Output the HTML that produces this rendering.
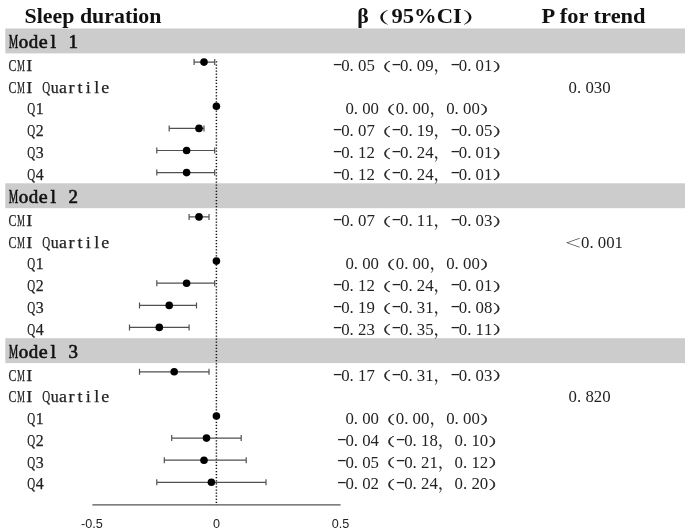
<!DOCTYPE html>
<html lang="en"><head><meta charset="utf-8"><title>Sleep duration</title>
<style>
html,body{margin:0;padding:0;background:#fff}
svg{display:block}
.hd{font-family:"Liberation Serif","Noto Serif CJK SC",serif;font-weight:bold;font-size:21.8px;fill:#111}
.num{font-family:"Liberation Serif","Noto Serif CJK SC",serif;font-size:16.8px;fill:#222}
.lab{font-family:"Liberation Serif","Noto Serif CJK SC",serif;fill:#222;stroke:#222;stroke-width:0.25}
.mod{font-family:"Liberation Serif","Noto Serif CJK SC",serif;fill:#111;stroke:#111;stroke-width:0.6}
.ax{font-family:"Liberation Sans",sans-serif;font-size:12.6px;fill:#222}
</style></head><body>
<svg width="685" height="529" viewBox="0 0 685 529">
<rect x="0" y="0" width="685" height="529" fill="#fff"/>
<rect x="5.3" y="28.5" width="679.7" height="24.9" fill="#cccccc"/>
<rect x="5.3" y="183.3" width="679.7" height="24.9" fill="#cccccc"/>
<rect x="5.3" y="338.2" width="679.7" height="24.9" fill="#cccccc"/>
<text class="hd" x="24.6" y="23.3" textLength="136.8" lengthAdjust="spacingAndGlyphs">Sleep duration</text>
<text class="hd"><tspan x="357.3" y="23.3">β</tspan><tspan x="364.08" y="22.50" font-size="15.53" textLength="25.42" lengthAdjust="spacingAndGlyphs">（</tspan><tspan x="391.5" y="23.3" textLength="70.3" lengthAdjust="spacingAndGlyphs">95%CI</tspan><tspan x="462.38" y="22.50" font-size="15.53" textLength="25.75" lengthAdjust="spacingAndGlyphs">）</tspan></text>
<text class="hd" x="541.6" y="23.3" textLength="104" lengthAdjust="spacingAndGlyphs">P for trend</text>
<text class="mod" font-size="18.6"><tspan x="8.75" y="48.40" textLength="9.45" lengthAdjust="spacingAndGlyphs">M</tspan><tspan x="18.70" y="48.40" textLength="9.45" lengthAdjust="spacingAndGlyphs">o</tspan><tspan x="28.65" y="48.40" textLength="9.45" lengthAdjust="spacingAndGlyphs">d</tspan><tspan x="38.87" y="48.40" textLength="8.92" lengthAdjust="spacingAndGlyphs">e</tspan><tspan x="50.48" y="48.40" textLength="5.58" lengthAdjust="spacingAndGlyphs">l</tspan> <tspan x="68.45" y="48.40" textLength="9.45" lengthAdjust="spacingAndGlyphs">1</tspan></text>
<text class="mod" font-size="18.6"><tspan x="8.75" y="203.25" textLength="9.45" lengthAdjust="spacingAndGlyphs">M</tspan><tspan x="18.70" y="203.25" textLength="9.45" lengthAdjust="spacingAndGlyphs">o</tspan><tspan x="28.65" y="203.25" textLength="9.45" lengthAdjust="spacingAndGlyphs">d</tspan><tspan x="38.87" y="203.25" textLength="8.92" lengthAdjust="spacingAndGlyphs">e</tspan><tspan x="50.48" y="203.25" textLength="5.58" lengthAdjust="spacingAndGlyphs">l</tspan> <tspan x="68.45" y="203.25" textLength="9.45" lengthAdjust="spacingAndGlyphs">2</tspan></text>
<text class="mod" font-size="18.6"><tspan x="8.75" y="358.10" textLength="9.45" lengthAdjust="spacingAndGlyphs">M</tspan><tspan x="18.70" y="358.10" textLength="9.45" lengthAdjust="spacingAndGlyphs">o</tspan><tspan x="28.65" y="358.10" textLength="9.45" lengthAdjust="spacingAndGlyphs">d</tspan><tspan x="38.87" y="358.10" textLength="8.92" lengthAdjust="spacingAndGlyphs">e</tspan><tspan x="50.48" y="358.10" textLength="5.58" lengthAdjust="spacingAndGlyphs">l</tspan> <tspan x="68.45" y="358.10" textLength="9.45" lengthAdjust="spacingAndGlyphs">3</tspan></text>
<line x1="216.4" y1="61.3" x2="216.4" y2="505" stroke="#111" stroke-width="1.5" stroke-dasharray="1.25 1.83"/>
<line x1="92.4" y1="504.9" x2="340.6" y2="504.9" stroke="#555" stroke-width="1.3"/>
<text class="ax" x="91.8" y="528.3" text-anchor="middle">-0.5</text>
<text class="ax" x="216.5" y="528.3" text-anchor="middle">0</text>
<text class="ax" x="340.6" y="528.3" text-anchor="middle">0.5</text>
<text class="lab" font-size="16.8"><tspan x="8.55" y="71.00" textLength="7.93" lengthAdjust="spacingAndGlyphs">C</tspan><tspan x="16.98" y="71.00" textLength="7.93" lengthAdjust="spacingAndGlyphs">M</tspan><tspan x="26.35" y="71.00" textLength="6.04" lengthAdjust="spacingAndGlyphs">I</tspan></text>
<path d="M194.1 62.1H214.7M194.1 59.1v6M214.7 59.1v6" stroke="#505050" stroke-width="1.2" fill="none"/>
<circle cx="204.0" cy="62.1" r="3.8" fill="#000"/>
<g class="num"><text><tspan x="332.80" y="68.80" textLength="9.70" lengthAdjust="spacingAndGlyphs">-</tspan><tspan x="341.20" y="71.00">0</tspan><tspan x="349.60" y="71.00">.</tspan><tspan x="358.00" y="71.00">0</tspan><tspan x="366.40" y="71.00">5</tspan><tspan x="372.44" y="70.75" font-size="11.70" textLength="18.53" lengthAdjust="spacingAndGlyphs" stroke="#222" stroke-width="0.35">（</tspan><tspan x="391.60" y="68.80" textLength="9.70" lengthAdjust="spacingAndGlyphs">-</tspan><tspan x="400.00" y="71.00">0</tspan><tspan x="408.40" y="71.00">.</tspan><tspan x="416.80" y="71.00">0</tspan><tspan x="425.20" y="71.00">9</tspan><tspan x="433.60" y="71.00">，</tspan><tspan x="450.40" y="68.80" textLength="9.70" lengthAdjust="spacingAndGlyphs">-</tspan><tspan x="458.80" y="71.00">0</tspan><tspan x="467.20" y="71.00">.</tspan><tspan x="475.60" y="71.00">0</tspan><tspan x="484.00" y="71.00">1</tspan><tspan x="492.83" y="70.75" font-size="11.70" textLength="18.53" lengthAdjust="spacingAndGlyphs" stroke="#222" stroke-width="0.35">）</tspan></text></g>
<text class="lab" font-size="16.8"><tspan x="8.55" y="92.73" textLength="7.93" lengthAdjust="spacingAndGlyphs">C</tspan><tspan x="16.98" y="92.73" textLength="7.93" lengthAdjust="spacingAndGlyphs">M</tspan><tspan x="26.35" y="92.73" textLength="6.04" lengthAdjust="spacingAndGlyphs">I</tspan> <tspan x="42.27" y="92.73" textLength="7.93" lengthAdjust="spacingAndGlyphs">Q</tspan><tspan x="50.70" y="92.73" textLength="7.93" lengthAdjust="spacingAndGlyphs">u</tspan><tspan x="59.13" y="92.73" textLength="7.93" lengthAdjust="spacingAndGlyphs">a</tspan><tspan x="68.50" y="92.73" textLength="6.04" lengthAdjust="spacingAndGlyphs">r</tspan><tspan x="77.43" y="92.73" textLength="5.04" lengthAdjust="spacingAndGlyphs">t</tspan><tspan x="85.86" y="92.73" textLength="5.04" lengthAdjust="spacingAndGlyphs">i</tspan><tspan x="94.29" y="92.73" textLength="5.04" lengthAdjust="spacingAndGlyphs">l</tspan><tspan x="101.28" y="92.73" textLength="7.93" lengthAdjust="spacingAndGlyphs">e</tspan></text>
<g class="num"><text><tspan x="568.60" y="92.73">0</tspan><tspan x="577.00" y="92.73">.</tspan><tspan x="585.40" y="92.73">0</tspan><tspan x="593.80" y="92.73">3</tspan><tspan x="602.20" y="92.73">0</tspan></text></g>
<text class="lab" font-size="16.8"><tspan x="27.37" y="114.46" textLength="7.93" lengthAdjust="spacingAndGlyphs">Q</tspan><tspan x="35.80" y="114.46" textLength="7.93" lengthAdjust="spacingAndGlyphs">1</tspan></text>
<circle cx="216.4" cy="106.3" r="3.8" fill="#000"/>
<g class="num"><text><tspan x="345.40" y="114.46">0</tspan><tspan x="353.80" y="114.46">.</tspan><tspan x="362.20" y="114.46">0</tspan><tspan x="370.60" y="114.46">0</tspan><tspan x="376.64" y="114.21" font-size="11.70" textLength="18.53" lengthAdjust="spacingAndGlyphs" stroke="#222" stroke-width="0.35">（</tspan><tspan x="395.80" y="114.46">0</tspan><tspan x="404.20" y="114.46">.</tspan><tspan x="412.60" y="114.46">0</tspan><tspan x="421.00" y="114.46">0</tspan><tspan x="429.40" y="114.46">，</tspan><tspan x="446.20" y="114.46">0</tspan><tspan x="454.60" y="114.46">.</tspan><tspan x="463.00" y="114.46">0</tspan><tspan x="471.40" y="114.46">0</tspan><tspan x="480.23" y="114.21" font-size="11.70" textLength="18.53" lengthAdjust="spacingAndGlyphs" stroke="#222" stroke-width="0.35">）</tspan></text></g>
<text class="lab" font-size="16.8"><tspan x="27.37" y="136.19" textLength="7.93" lengthAdjust="spacingAndGlyphs">Q</tspan><tspan x="35.80" y="136.19" textLength="7.93" lengthAdjust="spacingAndGlyphs">2</tspan></text>
<path d="M169.2 128.4H204.0M169.2 125.4v6M204.0 125.4v6" stroke="#505050" stroke-width="1.2" fill="none"/>
<circle cx="199.0" cy="128.4" r="3.8" fill="#000"/>
<g class="num"><text><tspan x="332.80" y="133.99" textLength="9.70" lengthAdjust="spacingAndGlyphs">-</tspan><tspan x="341.20" y="136.19">0</tspan><tspan x="349.60" y="136.19">.</tspan><tspan x="358.00" y="136.19">0</tspan><tspan x="366.40" y="136.19">7</tspan><tspan x="372.44" y="135.94" font-size="11.70" textLength="18.53" lengthAdjust="spacingAndGlyphs" stroke="#222" stroke-width="0.35">（</tspan><tspan x="391.60" y="133.99" textLength="9.70" lengthAdjust="spacingAndGlyphs">-</tspan><tspan x="400.00" y="136.19">0</tspan><tspan x="408.40" y="136.19">.</tspan><tspan x="416.80" y="136.19">1</tspan><tspan x="425.20" y="136.19">9</tspan><tspan x="433.60" y="136.19">，</tspan><tspan x="450.40" y="133.99" textLength="9.70" lengthAdjust="spacingAndGlyphs">-</tspan><tspan x="458.80" y="136.19">0</tspan><tspan x="467.20" y="136.19">.</tspan><tspan x="475.60" y="136.19">0</tspan><tspan x="484.00" y="136.19">5</tspan><tspan x="492.83" y="135.94" font-size="11.70" textLength="18.53" lengthAdjust="spacingAndGlyphs" stroke="#222" stroke-width="0.35">）</tspan></text></g>
<text class="lab" font-size="16.8"><tspan x="27.37" y="157.92" textLength="7.93" lengthAdjust="spacingAndGlyphs">Q</tspan><tspan x="35.80" y="157.92" textLength="7.93" lengthAdjust="spacingAndGlyphs">3</tspan></text>
<path d="M156.8 150.5H214.7M156.8 147.5v6M214.7 147.5v6" stroke="#505050" stroke-width="1.2" fill="none"/>
<circle cx="186.6" cy="150.5" r="3.8" fill="#000"/>
<g class="num"><text><tspan x="332.80" y="155.72" textLength="9.70" lengthAdjust="spacingAndGlyphs">-</tspan><tspan x="341.20" y="157.92">0</tspan><tspan x="349.60" y="157.92">.</tspan><tspan x="358.00" y="157.92">1</tspan><tspan x="366.40" y="157.92">2</tspan><tspan x="372.44" y="157.67" font-size="11.70" textLength="18.53" lengthAdjust="spacingAndGlyphs" stroke="#222" stroke-width="0.35">（</tspan><tspan x="391.60" y="155.72" textLength="9.70" lengthAdjust="spacingAndGlyphs">-</tspan><tspan x="400.00" y="157.92">0</tspan><tspan x="408.40" y="157.92">.</tspan><tspan x="416.80" y="157.92">2</tspan><tspan x="425.20" y="157.92">4</tspan><tspan x="433.60" y="157.92">，</tspan><tspan x="450.40" y="155.72" textLength="9.70" lengthAdjust="spacingAndGlyphs">-</tspan><tspan x="458.80" y="157.92">0</tspan><tspan x="467.20" y="157.92">.</tspan><tspan x="475.60" y="157.92">0</tspan><tspan x="484.00" y="157.92">1</tspan><tspan x="492.83" y="157.67" font-size="11.70" textLength="18.53" lengthAdjust="spacingAndGlyphs" stroke="#222" stroke-width="0.35">）</tspan></text></g>
<text class="lab" font-size="16.8"><tspan x="27.37" y="179.65" textLength="7.93" lengthAdjust="spacingAndGlyphs">Q</tspan><tspan x="35.80" y="179.65" textLength="7.93" lengthAdjust="spacingAndGlyphs">4</tspan></text>
<path d="M156.8 172.6H214.7M156.8 169.6v6M214.7 169.6v6" stroke="#505050" stroke-width="1.2" fill="none"/>
<circle cx="186.6" cy="172.6" r="3.8" fill="#000"/>
<g class="num"><text><tspan x="332.80" y="177.45" textLength="9.70" lengthAdjust="spacingAndGlyphs">-</tspan><tspan x="341.20" y="179.65">0</tspan><tspan x="349.60" y="179.65">.</tspan><tspan x="358.00" y="179.65">1</tspan><tspan x="366.40" y="179.65">2</tspan><tspan x="372.44" y="179.40" font-size="11.70" textLength="18.53" lengthAdjust="spacingAndGlyphs" stroke="#222" stroke-width="0.35">（</tspan><tspan x="391.60" y="177.45" textLength="9.70" lengthAdjust="spacingAndGlyphs">-</tspan><tspan x="400.00" y="179.65">0</tspan><tspan x="408.40" y="179.65">.</tspan><tspan x="416.80" y="179.65">2</tspan><tspan x="425.20" y="179.65">4</tspan><tspan x="433.60" y="179.65">，</tspan><tspan x="450.40" y="177.45" textLength="9.70" lengthAdjust="spacingAndGlyphs">-</tspan><tspan x="458.80" y="179.65">0</tspan><tspan x="467.20" y="179.65">.</tspan><tspan x="475.60" y="179.65">0</tspan><tspan x="484.00" y="179.65">1</tspan><tspan x="492.83" y="179.40" font-size="11.70" textLength="18.53" lengthAdjust="spacingAndGlyphs" stroke="#222" stroke-width="0.35">）</tspan></text></g>
<text class="lab" font-size="16.8"><tspan x="8.55" y="225.85" textLength="7.93" lengthAdjust="spacingAndGlyphs">C</tspan><tspan x="16.98" y="225.85" textLength="7.93" lengthAdjust="spacingAndGlyphs">M</tspan><tspan x="26.35" y="225.85" textLength="6.04" lengthAdjust="spacingAndGlyphs">I</tspan></text>
<path d="M189.1 216.9H209.0M189.1 213.9v6M209.0 213.9v6" stroke="#505050" stroke-width="1.2" fill="none"/>
<circle cx="199.0" cy="216.9" r="3.8" fill="#000"/>
<g class="num"><text><tspan x="332.80" y="223.65" textLength="9.70" lengthAdjust="spacingAndGlyphs">-</tspan><tspan x="341.20" y="225.85">0</tspan><tspan x="349.60" y="225.85">.</tspan><tspan x="358.00" y="225.85">0</tspan><tspan x="366.40" y="225.85">7</tspan><tspan x="372.44" y="225.60" font-size="11.70" textLength="18.53" lengthAdjust="spacingAndGlyphs" stroke="#222" stroke-width="0.35">（</tspan><tspan x="391.60" y="223.65" textLength="9.70" lengthAdjust="spacingAndGlyphs">-</tspan><tspan x="400.00" y="225.85">0</tspan><tspan x="408.40" y="225.85">.</tspan><tspan x="416.80" y="225.85">1</tspan><tspan x="425.20" y="225.85">1</tspan><tspan x="433.60" y="225.85">，</tspan><tspan x="450.40" y="223.65" textLength="9.70" lengthAdjust="spacingAndGlyphs">-</tspan><tspan x="458.80" y="225.85">0</tspan><tspan x="467.20" y="225.85">.</tspan><tspan x="475.60" y="225.85">0</tspan><tspan x="484.00" y="225.85">3</tspan><tspan x="492.83" y="225.60" font-size="11.70" textLength="18.53" lengthAdjust="spacingAndGlyphs" stroke="#222" stroke-width="0.35">）</tspan></text></g>
<text class="lab" font-size="16.8"><tspan x="8.55" y="247.58" textLength="7.93" lengthAdjust="spacingAndGlyphs">C</tspan><tspan x="16.98" y="247.58" textLength="7.93" lengthAdjust="spacingAndGlyphs">M</tspan><tspan x="26.35" y="247.58" textLength="6.04" lengthAdjust="spacingAndGlyphs">I</tspan> <tspan x="42.27" y="247.58" textLength="7.93" lengthAdjust="spacingAndGlyphs">Q</tspan><tspan x="50.70" y="247.58" textLength="7.93" lengthAdjust="spacingAndGlyphs">u</tspan><tspan x="59.13" y="247.58" textLength="7.93" lengthAdjust="spacingAndGlyphs">a</tspan><tspan x="68.50" y="247.58" textLength="6.04" lengthAdjust="spacingAndGlyphs">r</tspan><tspan x="77.43" y="247.58" textLength="5.04" lengthAdjust="spacingAndGlyphs">t</tspan><tspan x="85.86" y="247.58" textLength="5.04" lengthAdjust="spacingAndGlyphs">i</tspan><tspan x="94.29" y="247.58" textLength="5.04" lengthAdjust="spacingAndGlyphs">l</tspan><tspan x="101.28" y="247.58" textLength="7.93" lengthAdjust="spacingAndGlyphs">e</tspan></text>
<g class="num"><text><tspan x="564.10" y="246.88" font-size="12.6" textLength="18" lengthAdjust="spacingAndGlyphs">＜</tspan><tspan x="581.00" y="247.58">0</tspan><tspan x="589.40" y="247.58">.</tspan><tspan x="597.80" y="247.58">0</tspan><tspan x="606.20" y="247.58">0</tspan><tspan x="614.60" y="247.58">1</tspan></text></g>
<text class="lab" font-size="16.8"><tspan x="27.37" y="269.31" textLength="7.93" lengthAdjust="spacingAndGlyphs">Q</tspan><tspan x="35.80" y="269.31" textLength="7.93" lengthAdjust="spacingAndGlyphs">1</tspan></text>
<circle cx="216.4" cy="261.1" r="3.8" fill="#000"/>
<g class="num"><text><tspan x="345.40" y="269.31">0</tspan><tspan x="353.80" y="269.31">.</tspan><tspan x="362.20" y="269.31">0</tspan><tspan x="370.60" y="269.31">0</tspan><tspan x="376.64" y="269.06" font-size="11.70" textLength="18.53" lengthAdjust="spacingAndGlyphs" stroke="#222" stroke-width="0.35">（</tspan><tspan x="395.80" y="269.31">0</tspan><tspan x="404.20" y="269.31">.</tspan><tspan x="412.60" y="269.31">0</tspan><tspan x="421.00" y="269.31">0</tspan><tspan x="429.40" y="269.31">，</tspan><tspan x="446.20" y="269.31">0</tspan><tspan x="454.60" y="269.31">.</tspan><tspan x="463.00" y="269.31">0</tspan><tspan x="471.40" y="269.31">0</tspan><tspan x="480.23" y="269.06" font-size="11.70" textLength="18.53" lengthAdjust="spacingAndGlyphs" stroke="#222" stroke-width="0.35">）</tspan></text></g>
<text class="lab" font-size="16.8"><tspan x="27.37" y="291.04" textLength="7.93" lengthAdjust="spacingAndGlyphs">Q</tspan><tspan x="35.80" y="291.04" textLength="7.93" lengthAdjust="spacingAndGlyphs">2</tspan></text>
<path d="M156.8 283.2H214.7M156.8 280.2v6M214.7 280.2v6" stroke="#505050" stroke-width="1.2" fill="none"/>
<circle cx="186.6" cy="283.2" r="3.8" fill="#000"/>
<g class="num"><text><tspan x="332.80" y="288.84" textLength="9.70" lengthAdjust="spacingAndGlyphs">-</tspan><tspan x="341.20" y="291.04">0</tspan><tspan x="349.60" y="291.04">.</tspan><tspan x="358.00" y="291.04">1</tspan><tspan x="366.40" y="291.04">2</tspan><tspan x="372.44" y="290.79" font-size="11.70" textLength="18.53" lengthAdjust="spacingAndGlyphs" stroke="#222" stroke-width="0.35">（</tspan><tspan x="391.60" y="288.84" textLength="9.70" lengthAdjust="spacingAndGlyphs">-</tspan><tspan x="400.00" y="291.04">0</tspan><tspan x="408.40" y="291.04">.</tspan><tspan x="416.80" y="291.04">2</tspan><tspan x="425.20" y="291.04">4</tspan><tspan x="433.60" y="291.04">，</tspan><tspan x="450.40" y="288.84" textLength="9.70" lengthAdjust="spacingAndGlyphs">-</tspan><tspan x="458.80" y="291.04">0</tspan><tspan x="467.20" y="291.04">.</tspan><tspan x="475.60" y="291.04">0</tspan><tspan x="484.00" y="291.04">1</tspan><tspan x="492.83" y="290.79" font-size="11.70" textLength="18.53" lengthAdjust="spacingAndGlyphs" stroke="#222" stroke-width="0.35">）</tspan></text></g>
<text class="lab" font-size="16.8"><tspan x="27.37" y="312.77" textLength="7.93" lengthAdjust="spacingAndGlyphs">Q</tspan><tspan x="35.80" y="312.77" textLength="7.93" lengthAdjust="spacingAndGlyphs">3</tspan></text>
<path d="M139.5 305.4H196.5M139.5 302.4v6M196.5 302.4v6" stroke="#505050" stroke-width="1.2" fill="none"/>
<circle cx="169.2" cy="305.4" r="3.8" fill="#000"/>
<g class="num"><text><tspan x="332.80" y="310.57" textLength="9.70" lengthAdjust="spacingAndGlyphs">-</tspan><tspan x="341.20" y="312.77">0</tspan><tspan x="349.60" y="312.77">.</tspan><tspan x="358.00" y="312.77">1</tspan><tspan x="366.40" y="312.77">9</tspan><tspan x="372.44" y="312.52" font-size="11.70" textLength="18.53" lengthAdjust="spacingAndGlyphs" stroke="#222" stroke-width="0.35">（</tspan><tspan x="391.60" y="310.57" textLength="9.70" lengthAdjust="spacingAndGlyphs">-</tspan><tspan x="400.00" y="312.77">0</tspan><tspan x="408.40" y="312.77">.</tspan><tspan x="416.80" y="312.77">3</tspan><tspan x="425.20" y="312.77">1</tspan><tspan x="433.60" y="312.77">，</tspan><tspan x="450.40" y="310.57" textLength="9.70" lengthAdjust="spacingAndGlyphs">-</tspan><tspan x="458.80" y="312.77">0</tspan><tspan x="467.20" y="312.77">.</tspan><tspan x="475.60" y="312.77">0</tspan><tspan x="484.00" y="312.77">8</tspan><tspan x="492.83" y="312.52" font-size="11.70" textLength="18.53" lengthAdjust="spacingAndGlyphs" stroke="#222" stroke-width="0.35">）</tspan></text></g>
<text class="lab" font-size="16.8"><tspan x="27.37" y="334.50" textLength="7.93" lengthAdjust="spacingAndGlyphs">Q</tspan><tspan x="35.80" y="334.50" textLength="7.93" lengthAdjust="spacingAndGlyphs">4</tspan></text>
<path d="M129.5 327.4H189.1M129.5 324.4v6M189.1 324.4v6" stroke="#505050" stroke-width="1.2" fill="none"/>
<circle cx="159.3" cy="327.4" r="3.8" fill="#000"/>
<g class="num"><text><tspan x="332.80" y="332.30" textLength="9.70" lengthAdjust="spacingAndGlyphs">-</tspan><tspan x="341.20" y="334.50">0</tspan><tspan x="349.60" y="334.50">.</tspan><tspan x="358.00" y="334.50">2</tspan><tspan x="366.40" y="334.50">3</tspan><tspan x="372.44" y="334.25" font-size="11.70" textLength="18.53" lengthAdjust="spacingAndGlyphs" stroke="#222" stroke-width="0.35">（</tspan><tspan x="391.60" y="332.30" textLength="9.70" lengthAdjust="spacingAndGlyphs">-</tspan><tspan x="400.00" y="334.50">0</tspan><tspan x="408.40" y="334.50">.</tspan><tspan x="416.80" y="334.50">3</tspan><tspan x="425.20" y="334.50">5</tspan><tspan x="433.60" y="334.50">，</tspan><tspan x="450.40" y="332.30" textLength="9.70" lengthAdjust="spacingAndGlyphs">-</tspan><tspan x="458.80" y="334.50">0</tspan><tspan x="467.20" y="334.50">.</tspan><tspan x="475.60" y="334.50">1</tspan><tspan x="484.00" y="334.50">1</tspan><tspan x="492.83" y="334.25" font-size="11.70" textLength="18.53" lengthAdjust="spacingAndGlyphs" stroke="#222" stroke-width="0.35">）</tspan></text></g>
<text class="lab" font-size="16.8"><tspan x="8.55" y="380.70" textLength="7.93" lengthAdjust="spacingAndGlyphs">C</tspan><tspan x="16.98" y="380.70" textLength="7.93" lengthAdjust="spacingAndGlyphs">M</tspan><tspan x="26.35" y="380.70" textLength="6.04" lengthAdjust="spacingAndGlyphs">I</tspan></text>
<path d="M139.5 371.8H209.0M139.5 368.8v6M209.0 368.8v6" stroke="#505050" stroke-width="1.2" fill="none"/>
<circle cx="174.2" cy="371.8" r="3.8" fill="#000"/>
<g class="num"><text><tspan x="332.80" y="378.50" textLength="9.70" lengthAdjust="spacingAndGlyphs">-</tspan><tspan x="341.20" y="380.70">0</tspan><tspan x="349.60" y="380.70">.</tspan><tspan x="358.00" y="380.70">1</tspan><tspan x="366.40" y="380.70">7</tspan><tspan x="372.44" y="380.45" font-size="11.70" textLength="18.53" lengthAdjust="spacingAndGlyphs" stroke="#222" stroke-width="0.35">（</tspan><tspan x="391.60" y="378.50" textLength="9.70" lengthAdjust="spacingAndGlyphs">-</tspan><tspan x="400.00" y="380.70">0</tspan><tspan x="408.40" y="380.70">.</tspan><tspan x="416.80" y="380.70">3</tspan><tspan x="425.20" y="380.70">1</tspan><tspan x="433.60" y="380.70">，</tspan><tspan x="450.40" y="378.50" textLength="9.70" lengthAdjust="spacingAndGlyphs">-</tspan><tspan x="458.80" y="380.70">0</tspan><tspan x="467.20" y="380.70">.</tspan><tspan x="475.60" y="380.70">0</tspan><tspan x="484.00" y="380.70">3</tspan><tspan x="492.83" y="380.45" font-size="11.70" textLength="18.53" lengthAdjust="spacingAndGlyphs" stroke="#222" stroke-width="0.35">）</tspan></text></g>
<text class="lab" font-size="16.8"><tspan x="8.55" y="402.43" textLength="7.93" lengthAdjust="spacingAndGlyphs">C</tspan><tspan x="16.98" y="402.43" textLength="7.93" lengthAdjust="spacingAndGlyphs">M</tspan><tspan x="26.35" y="402.43" textLength="6.04" lengthAdjust="spacingAndGlyphs">I</tspan> <tspan x="42.27" y="402.43" textLength="7.93" lengthAdjust="spacingAndGlyphs">Q</tspan><tspan x="50.70" y="402.43" textLength="7.93" lengthAdjust="spacingAndGlyphs">u</tspan><tspan x="59.13" y="402.43" textLength="7.93" lengthAdjust="spacingAndGlyphs">a</tspan><tspan x="68.50" y="402.43" textLength="6.04" lengthAdjust="spacingAndGlyphs">r</tspan><tspan x="77.43" y="402.43" textLength="5.04" lengthAdjust="spacingAndGlyphs">t</tspan><tspan x="85.86" y="402.43" textLength="5.04" lengthAdjust="spacingAndGlyphs">i</tspan><tspan x="94.29" y="402.43" textLength="5.04" lengthAdjust="spacingAndGlyphs">l</tspan><tspan x="101.28" y="402.43" textLength="7.93" lengthAdjust="spacingAndGlyphs">e</tspan></text>
<g class="num"><text><tspan x="568.60" y="402.43">0</tspan><tspan x="577.00" y="402.43">.</tspan><tspan x="585.40" y="402.43">8</tspan><tspan x="593.80" y="402.43">2</tspan><tspan x="602.20" y="402.43">0</tspan></text></g>
<text class="lab" font-size="16.8"><tspan x="27.37" y="424.16" textLength="7.93" lengthAdjust="spacingAndGlyphs">Q</tspan><tspan x="35.80" y="424.16" textLength="7.93" lengthAdjust="spacingAndGlyphs">1</tspan></text>
<circle cx="216.4" cy="416.0" r="3.8" fill="#000"/>
<g class="num"><text><tspan x="345.40" y="424.16">0</tspan><tspan x="353.80" y="424.16">.</tspan><tspan x="362.20" y="424.16">0</tspan><tspan x="370.60" y="424.16">0</tspan><tspan x="376.64" y="423.91" font-size="11.70" textLength="18.53" lengthAdjust="spacingAndGlyphs" stroke="#222" stroke-width="0.35">（</tspan><tspan x="395.80" y="424.16">0</tspan><tspan x="404.20" y="424.16">.</tspan><tspan x="412.60" y="424.16">0</tspan><tspan x="421.00" y="424.16">0</tspan><tspan x="429.40" y="424.16">，</tspan><tspan x="446.20" y="424.16">0</tspan><tspan x="454.60" y="424.16">.</tspan><tspan x="463.00" y="424.16">0</tspan><tspan x="471.40" y="424.16">0</tspan><tspan x="480.23" y="423.91" font-size="11.70" textLength="18.53" lengthAdjust="spacingAndGlyphs" stroke="#222" stroke-width="0.35">）</tspan></text></g>
<text class="lab" font-size="16.8"><tspan x="27.37" y="445.89" textLength="7.93" lengthAdjust="spacingAndGlyphs">Q</tspan><tspan x="35.80" y="445.89" textLength="7.93" lengthAdjust="spacingAndGlyphs">2</tspan></text>
<path d="M171.7 438.1H241.2M171.7 435.1v6M241.2 435.1v6" stroke="#505050" stroke-width="1.2" fill="none"/>
<circle cx="206.5" cy="438.1" r="3.8" fill="#000"/>
<g class="num"><text><tspan x="337.00" y="443.69" textLength="9.70" lengthAdjust="spacingAndGlyphs">-</tspan><tspan x="345.40" y="445.89">0</tspan><tspan x="353.80" y="445.89">.</tspan><tspan x="362.20" y="445.89">0</tspan><tspan x="370.60" y="445.89">4</tspan><tspan x="376.64" y="445.64" font-size="11.70" textLength="18.53" lengthAdjust="spacingAndGlyphs" stroke="#222" stroke-width="0.35">（</tspan><tspan x="395.80" y="443.69" textLength="9.70" lengthAdjust="spacingAndGlyphs">-</tspan><tspan x="404.20" y="445.89">0</tspan><tspan x="412.60" y="445.89">.</tspan><tspan x="421.00" y="445.89">1</tspan><tspan x="429.40" y="445.89">8</tspan><tspan x="437.80" y="445.89">，</tspan><tspan x="454.60" y="445.89">0</tspan><tspan x="463.00" y="445.89">.</tspan><tspan x="471.40" y="445.89">1</tspan><tspan x="479.80" y="445.89">0</tspan><tspan x="488.63" y="445.64" font-size="11.70" textLength="18.53" lengthAdjust="spacingAndGlyphs" stroke="#222" stroke-width="0.35">）</tspan></text></g>
<text class="lab" font-size="16.8"><tspan x="27.37" y="467.62" textLength="7.93" lengthAdjust="spacingAndGlyphs">Q</tspan><tspan x="35.80" y="467.62" textLength="7.93" lengthAdjust="spacingAndGlyphs">3</tspan></text>
<path d="M164.3 460.2H246.2M164.3 457.2v6M246.2 457.2v6" stroke="#505050" stroke-width="1.2" fill="none"/>
<circle cx="204.0" cy="460.2" r="3.8" fill="#000"/>
<g class="num"><text><tspan x="337.00" y="465.42" textLength="9.70" lengthAdjust="spacingAndGlyphs">-</tspan><tspan x="345.40" y="467.62">0</tspan><tspan x="353.80" y="467.62">.</tspan><tspan x="362.20" y="467.62">0</tspan><tspan x="370.60" y="467.62">5</tspan><tspan x="376.64" y="467.37" font-size="11.70" textLength="18.53" lengthAdjust="spacingAndGlyphs" stroke="#222" stroke-width="0.35">（</tspan><tspan x="395.80" y="465.42" textLength="9.70" lengthAdjust="spacingAndGlyphs">-</tspan><tspan x="404.20" y="467.62">0</tspan><tspan x="412.60" y="467.62">.</tspan><tspan x="421.00" y="467.62">2</tspan><tspan x="429.40" y="467.62">1</tspan><tspan x="437.80" y="467.62">，</tspan><tspan x="454.60" y="467.62">0</tspan><tspan x="463.00" y="467.62">.</tspan><tspan x="471.40" y="467.62">1</tspan><tspan x="479.80" y="467.62">2</tspan><tspan x="488.63" y="467.37" font-size="11.70" textLength="18.53" lengthAdjust="spacingAndGlyphs" stroke="#222" stroke-width="0.35">）</tspan></text></g>
<text class="lab" font-size="16.8"><tspan x="27.37" y="489.35" textLength="7.93" lengthAdjust="spacingAndGlyphs">Q</tspan><tspan x="35.80" y="489.35" textLength="7.93" lengthAdjust="spacingAndGlyphs">4</tspan></text>
<path d="M156.8 482.3H266.0M156.8 479.3v6M266.0 479.3v6" stroke="#505050" stroke-width="1.2" fill="none"/>
<circle cx="211.4" cy="482.3" r="3.8" fill="#000"/>
<g class="num"><text><tspan x="337.00" y="487.15" textLength="9.70" lengthAdjust="spacingAndGlyphs">-</tspan><tspan x="345.40" y="489.35">0</tspan><tspan x="353.80" y="489.35">.</tspan><tspan x="362.20" y="489.35">0</tspan><tspan x="370.60" y="489.35">2</tspan><tspan x="376.64" y="489.10" font-size="11.70" textLength="18.53" lengthAdjust="spacingAndGlyphs" stroke="#222" stroke-width="0.35">（</tspan><tspan x="395.80" y="487.15" textLength="9.70" lengthAdjust="spacingAndGlyphs">-</tspan><tspan x="404.20" y="489.35">0</tspan><tspan x="412.60" y="489.35">.</tspan><tspan x="421.00" y="489.35">2</tspan><tspan x="429.40" y="489.35">4</tspan><tspan x="437.80" y="489.35">，</tspan><tspan x="454.60" y="489.35">0</tspan><tspan x="463.00" y="489.35">.</tspan><tspan x="471.40" y="489.35">2</tspan><tspan x="479.80" y="489.35">0</tspan><tspan x="488.63" y="489.10" font-size="11.70" textLength="18.53" lengthAdjust="spacingAndGlyphs" stroke="#222" stroke-width="0.35">）</tspan></text></g>
</svg></body></html>
